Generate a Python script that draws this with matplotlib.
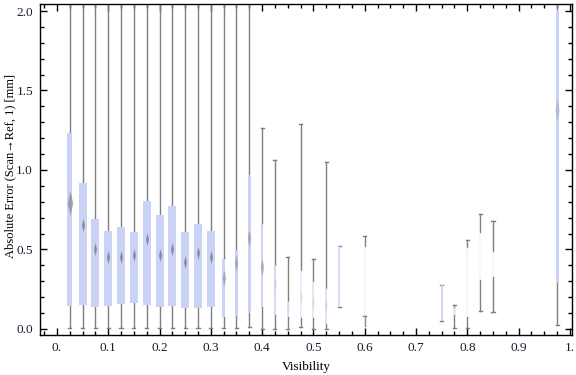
import matplotlib.pyplot as plt
from matplotlib.ticker import MultipleLocator, FuncFormatter

# box-whisker stats per visibility bin
visibility = [0.025, 0.05, 0.075, 0.1, 0.125, 0.15, 0.175, 0.2, 0.225, 0.25,
              0.275, 0.3, 0.325, 0.35, 0.375, 0.4, 0.425, 0.45, 0.475, 0.5,
              0.525, 0.55, 0.6, 0.75, 0.775, 0.8, 0.825, 0.85, 0.975]
whis_lo = [0.004, 0.004, 0.004, 0.004, 0.004, 0.004, 0.004, 0.004, 0.004, 0.004,
           0.004, 0.004, 0.004, 0.004, 0.015, 0.0, 0.0, 0.0, 0.015, 0.0,
           0.0, 0.136, 0.08, 0.048, 0.008, 0.006, 0.115, 0.107, 0.025]
q1 = [0.147, 0.153, 0.14, 0.147, 0.157, 0.166, 0.151, 0.14, 0.147, 0.134,
      0.134, 0.14, 0.078, 0.084, 0.103, 0.14, 0.088, 0.077, 0.071, 0.071,
      0.031, 0.136, 0.02, 0.048, 0.088, 0.078, 0.308, 0.325, 0.287]
median = [0.794, 0.654, 0.505, 0.453, 0.451, 0.465, 0.566, 0.463, 0.501, 0.423,
          0.48, 0.45, 0.319, 0.415, 0.57, 0.39, 0.28, 0.13, 0.2, 0.17,
          0.15, 0.33, 0.3, 0.16, 0.11, 0.3, 0.45, 0.4, 1.38]
q3 = [1.233, 0.918, 0.692, 0.616, 0.641, 0.61, 0.805, 0.717, 0.774, 0.61,
      0.66, 0.616, 0.44, 0.497, 0.969, 0.66, 0.40, 0.176, 0.371, 0.302,
      0.26, 0.522, 0.522, 0.275, 0.14, 0.518, 0.612, 0.493, 2.006]
whis_hi = [2.3, 2.3, 2.3, 2.3, 2.3, 2.3, 2.3, 2.3, 2.3, 2.3,
           2.3, 2.3, 2.3, 2.3, 2.3, 1.262, 1.063, 0.455, 1.287, 0.438,
           1.05, 0.522, 0.583, 0.275, 0.149, 0.56, 0.723, 0.68, 2.3]

# drawing style per box
box_width = [0.010] + [0.0156] * 11 + [0.006, 0.006, 0.006, 0.005] + [0.004] * 12 + [0.006]
box_alpha = [1.0] * 16 + [0.8, 0.6, 0.4, 0.5, 0.6, 0.8, 0.2, 0.9, 0.5, 0.2, 0.15, 0.15, 1.0]
med_alpha = [0.6] + [0.8] * 11 + [0.45] * 4 + [0.12] * 5 + [0.0] * 7 + [0.25]
med_size = [18] + [9.5] * 11 + [12] * 4 + [10] * 12 + [16]

box_color = '#cad2f5'
line_color = '#7f7f7f'

plt.rcParams['font.family'] = ['Liberation Serif', 'DejaVu Serif']

fig = plt.figure(figsize=(5.76, 3.75), dpi=100)
ax = fig.add_axes([0.0694, 0.1067, 0.9236, 0.8826])

stats = [dict(whislo=a, q1=b, med=c, q3=d, whishi=e)
         for a, b, c, d, e in zip(whis_lo, q1, median, q3, whis_hi)]
bp = ax.bxp(stats, positions=visibility, widths=box_width, patch_artist=True,
            showfliers=False, manage_ticks=False, capwidths=0.006,
            boxprops=dict(linewidth=0),
            whiskerprops=dict(color=line_color, linewidth=1.0),
            capprops=dict(color=line_color, linewidth=1.0),
            medianprops=dict(linewidth=0))
for patch, a in zip(bp['boxes'], box_alpha):
    patch.set_facecolor(box_color)
    patch.set_alpha(a)
    patch.set_zorder(3)

diamond = [(0, 1), (0.22, 0), (0, -1), (-0.22, 0), (0, 1)]
for x, m, a, s in zip(visibility, median, med_alpha, med_size):
    ax.plot(x, m, marker=diamond, markersize=s, color='#7a7a7a',
            markeredgewidth=0, alpha=a, zorder=4)

ax.set_xlim(-0.033, 1.004)
ax.set_ylim(-0.038, 2.044)

ax.xaxis.set_major_locator(MultipleLocator(0.1))
ax.xaxis.set_minor_locator(MultipleLocator(0.025))
ax.yaxis.set_major_locator(MultipleLocator(0.5))
ax.yaxis.set_minor_locator(MultipleLocator(0.1))


def fmt_x(v, pos):
    s = '%.1f' % v
    if s.endswith('.0'):
        return s[:-1]
    return s


ax.xaxis.set_major_formatter(FuncFormatter(fmt_x))
ax.yaxis.set_major_formatter(FuncFormatter(lambda v, pos: '%.1f' % v))

ax.tick_params(which='both', direction='in', top=True, right=True,
               labelsize=9.5, labelcolor='#1a1a2e', width=1.0, pad=5)
ax.tick_params(which='major', length=5)
ax.tick_params(which='minor', length=3)
for sp in ax.spines.values():
    sp.set_linewidth(1.0)

ax.set_xlabel('Visibility', fontsize=9.5, labelpad=5)
ax.set_ylabel('Absolute Error (Scan\u2192Ref, 1) [mm]', fontsize=9, va='center')
ax.yaxis.set_label_coords(-0.056, 0.51)

fig.savefig('out.png', dpi=100)
